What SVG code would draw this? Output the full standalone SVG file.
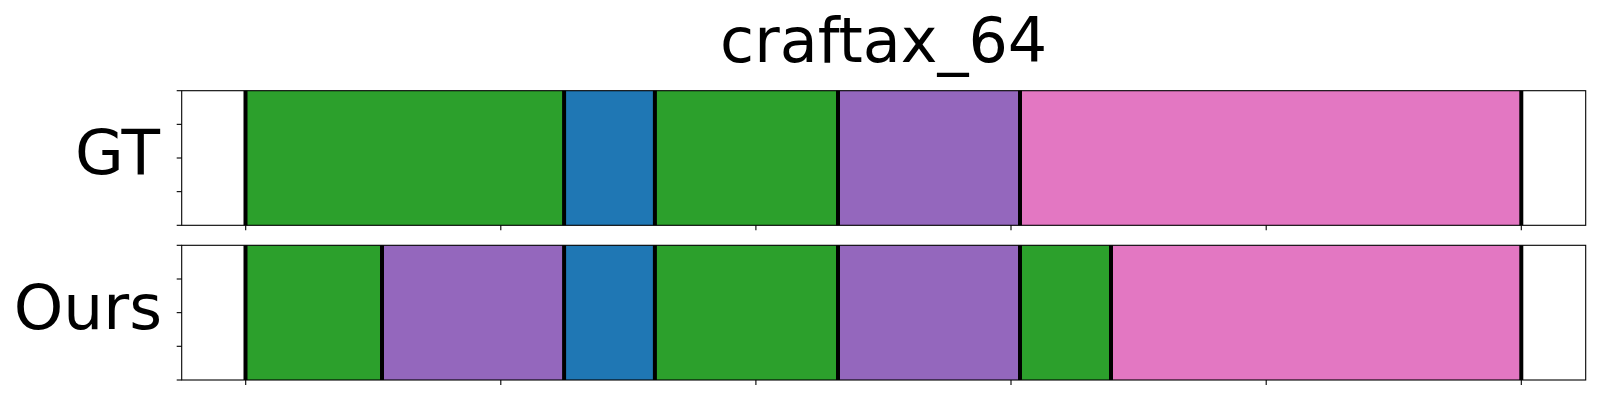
<svg xmlns="http://www.w3.org/2000/svg" width="1600" height="400" viewBox="0 0 1600 400">
<style>
.t{font-family:"DejaVu Sans",sans-serif;fill:#000}
.frame{fill:none;stroke:#000;stroke-width:1.1}
.tick{stroke:#000;stroke-width:1.1}
.sep{stroke:#000;stroke-width:4}
.g{fill:#2ca02c}.b{fill:#1f77b4}.p{fill:#9467bd}.k{fill:#e377c2}
</style>
<rect width="1600" height="400" fill="#fff"/>
<text class="t" x="883.7" y="62.3" font-size="62" text-anchor="middle">craftax_64</text>
<g id="gt">
<rect class="g" x="245.5" y="90.7" width="318.6" height="134.6"/>
<rect class="b" x="564.1" y="90.7" width="90.8" height="134.6"/>
<rect class="g" x="654.9" y="90.7" width="183.1" height="134.6"/>
<rect class="p" x="838" y="90.7" width="182" height="134.6"/>
<rect class="k" x="1020" y="90.7" width="501.3" height="134.6"/>
<g class="sep">
<line x1="245.5" y1="90.7" x2="245.5" y2="225.3"/>
<line x1="564.1" y1="90.7" x2="564.1" y2="225.3"/>
<line x1="654.9" y1="90.7" x2="654.9" y2="225.3"/>
<line x1="838" y1="90.7" x2="838" y2="225.3"/>
<line x1="1020" y1="90.7" x2="1020" y2="225.3"/>
<line x1="1521.3" y1="90.7" x2="1521.3" y2="225.3"/>
</g>
<rect class="frame" x="181.7" y="90.7" width="1404" height="134.6"/>
<g class="tick">
<line x1="176.7" y1="90.7" x2="181.7" y2="90.7"/>
<line x1="176.7" y1="124.35" x2="181.7" y2="124.35"/>
<line x1="176.7" y1="158" x2="181.7" y2="158"/>
<line x1="176.7" y1="191.65" x2="181.7" y2="191.65"/>
<line x1="176.7" y1="225.3" x2="181.7" y2="225.3"/>
<line x1="245.7" y1="225.3" x2="245.7" y2="230.3"/>
<line x1="500.8" y1="225.3" x2="500.8" y2="230.3"/>
<line x1="755.9" y1="225.3" x2="755.9" y2="230.3"/>
<line x1="1011" y1="225.3" x2="1011" y2="230.3"/>
<line x1="1266.2" y1="225.3" x2="1266.2" y2="230.3"/>
<line x1="1521.3" y1="225.3" x2="1521.3" y2="230.3"/>
</g>
<text class="t" x="160" y="174" font-size="63" text-anchor="end">GT</text>
</g>
<g id="ours">
<rect class="g" x="245.5" y="245.3" width="136.5" height="134.7"/>
<rect class="p" x="382" y="245.3" width="182.1" height="134.7"/>
<rect class="b" x="564.1" y="245.3" width="90.8" height="134.7"/>
<rect class="g" x="654.9" y="245.3" width="183.1" height="134.7"/>
<rect class="p" x="838" y="245.3" width="182" height="134.7"/>
<rect class="g" x="1020" y="245.3" width="91" height="134.7"/>
<rect class="k" x="1111" y="245.3" width="410.3" height="134.7"/>
<g class="sep">
<line x1="245.5" y1="245.3" x2="245.5" y2="380"/>
<line x1="382" y1="245.3" x2="382" y2="380"/>
<line x1="564.1" y1="245.3" x2="564.1" y2="380"/>
<line x1="654.9" y1="245.3" x2="654.9" y2="380"/>
<line x1="838" y1="245.3" x2="838" y2="380"/>
<line x1="1020" y1="245.3" x2="1020" y2="380"/>
<line x1="1111" y1="245.3" x2="1111" y2="380"/>
<line x1="1521.3" y1="245.3" x2="1521.3" y2="380"/>
</g>
<rect class="frame" x="181.7" y="245.3" width="1404" height="134.7"/>
<g class="tick">
<line x1="176.7" y1="245.3" x2="181.7" y2="245.3"/>
<line x1="176.7" y1="279" x2="181.7" y2="279"/>
<line x1="176.7" y1="312.65" x2="181.7" y2="312.65"/>
<line x1="176.7" y1="346.3" x2="181.7" y2="346.3"/>
<line x1="176.7" y1="380" x2="181.7" y2="380"/>
<line x1="245.7" y1="380" x2="245.7" y2="385"/>
<line x1="500.8" y1="380" x2="500.8" y2="385"/>
<line x1="755.9" y1="380" x2="755.9" y2="385"/>
<line x1="1011" y1="380" x2="1011" y2="385"/>
<line x1="1266.2" y1="380" x2="1266.2" y2="385"/>
<line x1="1521.3" y1="380" x2="1521.3" y2="385"/>
</g>
<text class="t" x="162" y="329" font-size="63" text-anchor="end">Ours</text>
</g>
<g id="connectors"/>
</svg>
